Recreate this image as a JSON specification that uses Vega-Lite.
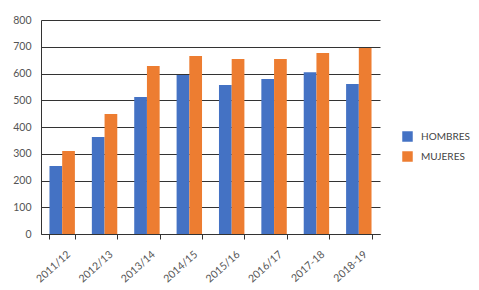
{
  "$schema": "https://vega.github.io/schema/vega-lite/v6.json",
  "width": 339,
  "height": 214,
  "autosize": "none",
  "padding": {"left": 41, "top": 20, "right": 99, "bottom": 56},
  "background": "white",
  "config": {"view": {"stroke": null}, "font": "Lato"},
  "data": {"values": [
    {"curso": "2011/12", "sexo": "HOMBRES", "valor": 254},
    {"curso": "2011/12", "sexo": "MUJERES", "valor": 310},
    {"curso": "2012/13", "sexo": "HOMBRES", "valor": 363},
    {"curso": "2012/13", "sexo": "MUJERES", "valor": 449},
    {"curso": "2013/14", "sexo": "HOMBRES", "valor": 512},
    {"curso": "2013/14", "sexo": "MUJERES", "valor": 628},
    {"curso": "2014/15", "sexo": "HOMBRES", "valor": 594},
    {"curso": "2014/15", "sexo": "MUJERES", "valor": 665},
    {"curso": "2015/16", "sexo": "HOMBRES", "valor": 557},
    {"curso": "2015/16", "sexo": "MUJERES", "valor": 654},
    {"curso": "2016/17", "sexo": "HOMBRES", "valor": 579},
    {"curso": "2016/17", "sexo": "MUJERES", "valor": 654},
    {"curso": "2017-18", "sexo": "HOMBRES", "valor": 605},
    {"curso": "2017-18", "sexo": "MUJERES", "valor": 677},
    {"curso": "2018-19", "sexo": "HOMBRES", "valor": 561},
    {"curso": "2018-19", "sexo": "MUJERES", "valor": 695}
  ]},
  "mark": {"type": "bar"},
  "encoding": {
    "x": {
      "field": "curso", "type": "nominal", "sort": null,
      "scale": {"paddingInner": 0.4, "paddingOuter": 0.2},
      "axis": {
        "title": null, "labelAngle": -42, "labelAlign": "right", "labelBaseline": "top",
        "labelFontSize": 10.5, "labelColor": "#555555", "labelPadding": 10, "labelOffset": 3,
        "tickBand": "extent", "ticks": true, "tickSize": 5, "tickColor": "#333333",
        "domainColor": "#333333", "grid": false
      }
    },
    "xOffset": {"field": "sexo", "type": "nominal", "scale": {"paddingInner": 0, "paddingOuter": 0}},
    "y": {
      "field": "valor", "type": "quantitative",
      "scale": {"domain": [0, 800], "nice": false},
      "axis": {
        "title": null, "values": [0, 100, 200, 300, 400, 500, 600, 700, 800],
        "labelOverlap": false,
        "grid": true, "gridColor": "#333333", "gridWidth": 1, "gridOpacity": 1,
        "ticks": false, "domain": true, "domainColor": "#333333",
        "labelFontSize": 10.5, "labelColor": "#555555", "labelPadding": 10
      }
    },
    "color": {
      "field": "sexo", "type": "nominal",
      "scale": {"domain": ["HOMBRES", "MUJERES"], "range": ["#4472C4", "#ED7D31"]},
      "legend": {
        "title": null, "orient": "none", "legendX": 361, "legendY": 111,
        "symbolType": "square", "symbolSize": 110, "symbolStrokeWidth": 0,
        "labelFontSize": 10, "labelColor": "#444444", "rowPadding": 9, "labelOffset": 8
      }
    }
  }
}
